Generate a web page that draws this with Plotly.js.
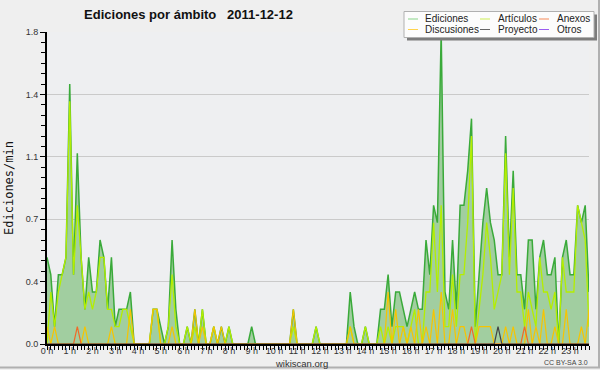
<!DOCTYPE html>
<html>
<head>
<meta charset="utf-8">
<script src="https://cdn.plot.ly/plotly-3.0.1.min.js"></script>
<style>html,body{margin:0;padding:0;background:#efefef;}#chart{width:600px;height:370px;}</style>
</head>
<body>
<div id="chart"></div>
<script>
// Edits per minute, one value per 10-minute slot (00:00 ... 23:50)
const ediciones = [
  0.5,0.4,0.1,0.4,0.4,0.5,1.5,0.4,1.1,0.5,0.2,0.5,
  0.3,0.3,0.6,0.5,0.2,0.5,0.1,0.2,0.2,0.2,0.3,0,
  0,0,0,0,0.2,0.2,0.1,0,0.1,0.6,0.2,0,
  0,0.1,0,0.2,0,0.2,0,0,0.1,0,0.1,0,
  0.1,0,0,0,0,0,0.1,0,0,0,0,0,
  0,0,0,0,0,0.2,0,0,0,0,0,0.1,
  0,0,0,0,0,0,0,0,0.3,0.1,0,0,
  0.1,0,0,0,0.2,0.2,0.4,0.1,0.3,0.3,0.2,0.1,
  0.2,0.3,0.2,0.2,0.6,0.4,0.8,0.7,1.8,0.3,0.2,0.6,
  0.2,0.8,0.8,1.0,1.3,0.1,0.4,0.7,0.9,0.7,0.6,0.4,
  0.4,1.2,0.5,1.0,0.4,0.4,0.2,0.6,0.6,0.2,0.5,0.6,
  0.4,0.4,0.5,0,0.5,0.6,0.4,0.4,0.8,0.7,0.8,0.3
];
const articulos = [
  0,0.3,0.1,0.3,0.4,0.5,1.4,0.4,0.8,0.5,0.2,0.3,
  0.2,0.3,0.5,0.5,0.2,0.2,0.1,0.1,0.2,0.2,0.1,0,
  0,0,0,0,0.2,0.2,0,0,0.1,0.4,0.1,0,
  0,0.1,0,0.1,0,0.2,0,0,0.1,0,0,0,
  0.1,0,0,0,0,0,0,0,0,0,0,0,
  0,0,0,0,0,0.1,0,0,0,0,0,0.1,
  0,0,0,0,0,0,0,0,0.1,0,0,0,
  0.1,0,0,0,0.1,0,0.1,0,0.1,0.1,0.1,0,
  0.1,0.2,0,0,0.3,0.3,0.7,0.3,0.8,0.1,0.1,0.4,
  0.1,0.4,0.4,0.7,1.2,0,0.2,0.4,0.7,0.5,0.2,0.3,
  0.4,1.1,0.4,0.9,0.3,0.3,0.1,0.3,0.2,0.1,0.5,0.3,
  0.3,0.2,0.3,0,0.5,0.3,0.3,0.3,0.8,0.7,0.6,0.1
];
const discusiones = [
  0.1,0,0.1,0,0,0,0,0,0,0,0.1,0,
  0,0,0,0,0,0.1,0,0,0,0,0.2,0,
  0,0,0,0,0.2,0.2,0,0,0,0.1,0,0,
  0,0,0,0.2,0,0.1,0,0,0.1,0,0.1,0,
  0,0,0,0,0,0,0,0,0,0,0,0,
  0,0,0,0,0,0.2,0,0,0,0,0,0,
  0,0,0,0,0,0,0,0,0.1,0,0,0,
  0,0,0,0,0,0,0.3,0,0.2,0,0.1,0,
  0.1,0,0.2,0,0.1,0,0.2,0,0.3,0,0,0.2,
  0,0.1,0.1,0,0,0,0.1,0.1,0.1,0.1,0,0,
  0,0.1,0,0.1,0,0,0,0.2,0,0.1,0,0.2,
  0,0,0.1,0,0,0.2,0,0,0,0.1,0,0.2
];
const anexos = [
  0,0,0,0,0,0,0,0,0.1,0,0,0,
  0,0,0,0,0,0,0,0,0,0,0,0,
  0,0,0,0,0,0,0,0,0,0,0,0,
  0,0,0,0,0,0,0,0,0,0,0,0,
  0,0,0,0,0,0,0,0,0,0,0,0,
  0,0,0,0,0,0,0,0,0,0,0,0,
  0,0,0,0,0,0,0,0,0,0,0,0,
  0,0,0,0,0,0,0,0,0,0,0,0,
  0,0,0,0,0,0,0,0,0,0,0,0,
  0,0,0,0,0.1,0,0,0,0,0,0,0,
  0,0,0,0,0,0,0.1,0,0,0,0,0,
  0,0,0,0,0,0,0,0,0,0,0,0
];
const proyecto = [
  0,0,0,0,0,0,0,0,0,0,0,0,
  0,0,0,0,0,0,0,0,0,0,0,0,
  0,0,0,0,0,0,0,0,0,0,0,0,
  0,0,0,0,0,0,0,0,0,0,0,0,
  0,0,0,0,0,0,0,0,0,0,0,0,
  0,0,0,0,0,0,0,0,0,0,0,0,
  0,0,0,0,0,0,0,0,0,0,0,0,
  0,0,0,0,0,0,0,0,0,0,0,0,
  0,0,0,0,0,0,0,0,0,0,0,0,
  0,0,0,0,0,0,0,0,0,0,0,0.1,
  0,0,0,0,0,0,0,0,0,0,0,0,
  0,0,0,0,0,0,0,0,0,0,0,0
];
const otros = [
  0,0,0,0,0,0,0,0,0,0,0,0,
  0,0,0,0,0,0,0,0,0,0,0,0,
  0,0,0,0,0,0,0,0,0,0,0,0,
  0,0,0,0,0,0,0,0,0,0,0,0,
  0,0,0,0,0,0,0,0,0,0,0,0,
  0,0,0,0,0,0,0,0,0,0,0,0,
  0,0,0,0,0,0,0,0,0,0,0,0,
  0,0,0,0,0,0,0,0,0,0,0,0,
  0,0,0,0,0,0,0,0,0,0,0,0,
  0,0,0,0,0,0,0,0,0,0,0,0,
  0,0,0,0,0,0,0,0,0,0,0,0,
  0,0,0,0,0,0,0,0,0,0,0,0
];
const hourTicks = [0,1,2,3,4,5,6,7,8,9,10,11,12,13,14,15,16,17,18,19,20,21,22,23];
const hourLabels = ['0 h','1 h','2 h','3 h','4 h','5 h','6 h','7 h','8 h','9 h','10 h','11 h','12 h','13 h','14 h','15 h','16 h','17 h','18 h','19 h','20 h','21 h','22 h','23 h'];
const yTickVals = [0, 0.36, 0.72, 1.08, 1.44, 1.8];
const yTickText = ['0.0','0.4','0.7','1.1','1.4','1.8'];
const seriesNames = ['Ediciones','Artículos','Anexos','Discusiones','Proyecto','Otros'];

// slot times in hours (10-minute slots)
const times = ediciones.map((_, i) => i / 6);

const colors = {
  'Ediciones': '#3aaa3a',
  'Artículos': '#b4ee00',
  'Discusiones': '#f7c400',
  'Anexos': '#f06a28',
  'Proyecto': '#444444',
  'Otros': '#8a4ee8'
};
const legendColors = {
  'Ediciones': '#88d488',
  'Artículos': '#cdee55',
  'Discusiones': '#ffd34d',
  'Anexos': '#f78a58',
  'Proyecto': '#666666',
  'Otros': '#9a5cf0'
};

const lineTrace = (name, y, w) => ({
  x: times, y: y, type: 'scatter', mode: 'lines', name: name,
  line: {color: colors[name], width: w}, hoverinfo: 'skip'
});

const data = [
  lineTrace('Otros', otros, 1.2),
  Object.assign(lineTrace('Ediciones', ediciones, 1.5), {fill: 'tozeroy', fillcolor: '#a1cea0'}),
  lineTrace('Artículos', articulos, 1.3),
  lineTrace('Discusiones', discusiones, 1.2),
  lineTrace('Anexos', anexos, 1.2),
  lineTrace('Proyecto', proyecto, 1.2)
];

// pixel -> paper helpers (plot area: x 47..589, y 32..344)
const L = 47, W = 542, T = 32, H = 312;
const px = v => (v - L) / W;
const py = v => (T + H - v) / H;

const shapes = [
  {type:'rect', xref:'paper', yref:'paper', x0:px(407), x1:px(597), y0:py(40.5), y1:py(14.5), fillcolor:'#7c7c7c', line:{width:0}},
  {type:'rect', xref:'paper', yref:'paper', x0:px(404), x1:px(594), y0:py(37.5), y1:py(11.5), fillcolor:'#fcfcfc', line:{color:'#b0b0b0', width:1}},
  {type:'line', xref:'paper', yref:'paper', x0:px(599), x1:px(599), y0:py(0), y1:py(368), line:{color:'#b0b0b0', width:2}},
  {type:'line', xref:'paper', yref:'paper', x0:px(0), x1:px(600), y0:py(367.5), y1:py(367.5), line:{color:'#b0b0b0', width:2}}
];
const annotations = [];
const cols = [[408, 423], [480, 495.5], [539, 554.5]];
const rows = [19, 29.5];
seriesNames.forEach((name, k) => {
  const c = cols[k % 3], r = rows[Math.floor(k / 3)];
  shapes.push({type:'line', xref:'paper', yref:'paper', x0:px(c[0]), x1:px(c[0] + 10), y0:py(r), y1:py(r), line:{color: legendColors[name], width: 1}});
  annotations.push({xref:'paper', yref:'paper', x:px(c[1]), y:py(r), xanchor:'left', yanchor:'middle', text:name, showarrow:false, font:{family:'Liberation Sans, Arial, sans-serif', size:10, color:'#222'}});
});
annotations.push({xref:'paper', yref:'paper', x:px(301), y:py(363), xanchor:'center', yanchor:'middle', text:'wikiscan.org', showarrow:false, font:{family:'Liberation Sans, Arial, sans-serif', size:9.5, color:'#333'}});
annotations.push({xref:'paper', yref:'paper', x:px(590), y:py(362.5), xanchor:'right', yanchor:'middle', text:'CC BY-SA 3.0', showarrow:false, font:{family:'Liberation Sans, Arial, sans-serif', size:7, color:'#444'}});

const layout = {
  width: 600, height: 370,
  margin: {l: L, r: 600 - L - W, t: T, b: 370 - T - H},
  paper_bgcolor: '#efefef',
  plot_bgcolor: '#eeeff1',
  showlegend: false,
  title: {
    text: 'Ediciones por ámbito\u00a0\u00a0\u00a02011-12-12',
    font: {family: 'Liberation Sans, Arial, sans-serif', size: 13, color: '#111', weight: 'bold'},
    xref: 'container', yref: 'container', x: 188.5 / 600, xanchor: 'center', y: 1 - 14 / 370, yanchor: 'middle'
  },
  xaxis: {
    range: [0, 143 / 6], tickmode: 'array', tickvals: hourTicks, ticktext: hourLabels,
    ticks: 'outside', ticklen: 4, tickwidth: 1, tickcolor: '#000', ticklabelstandoff: -7,
    minor: {tickmode: 'linear', tick0: 0, dtick: 1 / 6, ticks: 'outside', ticklen: 4, tickwidth: 1, tickcolor: '#000', showgrid: false},
    showline: true, linecolor: '#000', linewidth: 2, showgrid: false, zeroline: false,
    tickfont: {family: 'Liberation Sans, Arial, sans-serif', size: 9, color: '#333'}
  },
  yaxis: {
    range: [0, 1.8], tickmode: 'array', tickvals: yTickVals, ticktext: yTickText,
    ticks: 'outside', ticklen: 5, tickwidth: 1, tickcolor: '#000',
    minor: {tickmode: 'linear', tick0: 0, dtick: 0.06, ticks: 'outside', ticklen: 4, tickwidth: 1, tickcolor: '#000', showgrid: false},
    showline: true, linecolor: '#000', linewidth: 2, showgrid: true, gridcolor: '#cacaca', gridwidth: 1, zeroline: false,
    tickfont: {family: 'Liberation Sans, Arial, sans-serif', size: 9, color: '#333'},
    title: {text: 'Ediciones/min', font: {family: 'DejaVu Sans Mono, monospace', size: 12, color: '#111'}, standoff: 9}
  },
  shapes: shapes,
  annotations: annotations
};

Plotly.newPlot('chart', data, layout, {staticPlot: true, displayModeBar: false});
</script>
</body>
</html>
